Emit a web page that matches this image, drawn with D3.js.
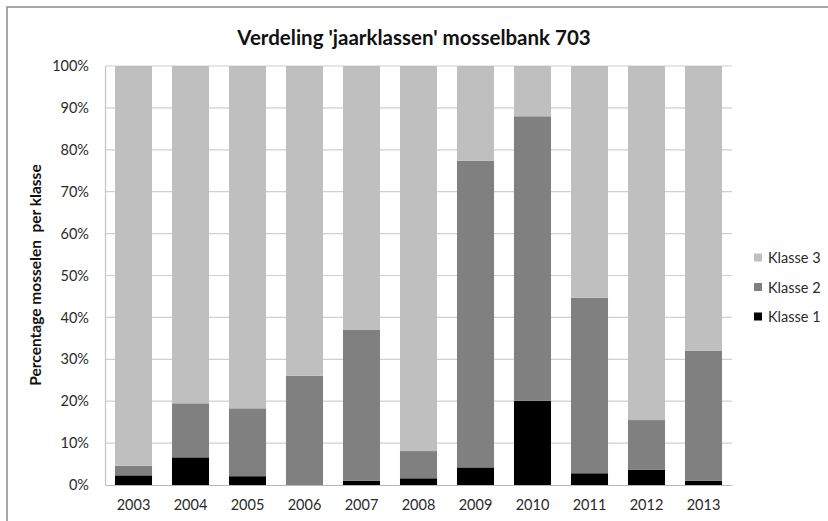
<!DOCTYPE html>
<html>
<head>
<meta charset="utf-8">
<script src="https://cdn.jsdelivr.net/npm/d3@7"></script>
<style>
  html, body { margin: 0; padding: 0; background: #fff; }
  svg { display: block; font-family: Lato, "Open Sans", sans-serif; }
</style>
</head>
<body>
<svg id="chart" width="828" height="521"></svg>
<script>
// Year classes of mussel bed 703, percentage per class
const years = ["2003", "2004", "2005", "2006", "2007", "2008", "2009", "2010", "2011", "2012", "2013"];
const klasse1 = [2.3, 6.6, 2.1, 0.0, 1.0, 1.6, 4.2, 20.1, 2.8, 3.6, 1.0];
const klasse2 = [2.3, 12.9, 16.2, 26.1, 36.0, 6.5, 73.2, 67.9, 41.9, 11.9, 31.0];
const klasse3 = [95.4, 80.5, 81.7, 73.9, 63.0, 91.9, 22.6, 12.0, 55.3, 84.5, 68.0];
const seriesNames = ["Klasse 1", "Klasse 2", "Klasse 3"];
const seriesColors = ["#000000", "#808080", "#bfbfbf"];
const yTicks = [0, 10, 20, 30, 40, 50, 60, 70, 80, 90, 100];

const svg = d3.select("#chart");
const margin = { left: 105, right: 96, top: 66, bottom: 36 };
const W = 828, H = 521;
const plotW = W - margin.left - margin.right;
const plotH = H - margin.top - margin.bottom;

// Outer chart frame (continues past the right and bottom edge)
svg.append("rect")
  .attr("x", 7).attr("y", 7)
  .attr("width", 840).attr("height", 540)
  .attr("fill", "none").attr("stroke", "#8a8a8a").attr("stroke-width", 1.5);

const table = years.map((y, i) => ({
  year: y,
  "Klasse 1": klasse1[i],
  "Klasse 2": klasse2[i],
  "Klasse 3": klasse3[i]
}));
const stacked = d3.stack().keys(seriesNames)(table);

const x = d3.scaleBand().domain(years)
  .range([margin.left, margin.left + plotW])
  .paddingInner(0.35).paddingOuter(0.175);
const y = d3.scaleLinear().domain([0, 100]).range([margin.top + plotH, margin.top]);
const color = d3.scaleOrdinal().domain(seriesNames).range(seriesColors);

// Horizontal gridlines
svg.append("g")
  .selectAll("line").data(yTicks.filter(t => t > 0)).join("line")
  .attr("x1", margin.left).attr("x2", margin.left + plotW)
  .attr("y1", d => y(d)).attr("y2", d => y(d))
  .attr("stroke", "#d0d0d0").attr("stroke-width", 1.2);

// Stacked bars
svg.append("g")
  .selectAll("g").data(stacked).join("g")
  .attr("fill", d => color(d.key))
  .selectAll("rect").data(d => d).join("rect")
  .attr("x", d => x(d.data.year))
  .attr("width", x.bandwidth())
  .attr("y", d => y(d[1]))
  .attr("height", d => y(d[0]) - y(d[1]));

// Axes
const yAxis = svg.append("g")
  .attr("transform", `translate(${margin.left},0)`)
  .call(d3.axisLeft(y).tickValues(yTicks).tickFormat(d => d + "%").tickSize(0).tickPadding(16));
yAxis.select(".domain").attr("stroke", "#c4c4c4").attr("stroke-width", 1.2);
yAxis.selectAll("text").attr("font-size", 14.5).attr("fill", "#2a2a2a")
  .attr("font-family", "Lato, sans-serif");

const xAxis = svg.append("g")
  .attr("transform", `translate(0,${margin.top + plotH})`)
  .call(d3.axisBottom(x).tickSize(0).tickPadding(15));
xAxis.select(".domain").attr("stroke", "#b8b8b8").attr("stroke-width", 1.2);
xAxis.selectAll("text").attr("font-size", 14.5).attr("fill", "#2a2a2a")
  .attr("font-family", "Lato, sans-serif");

// Title
svg.append("text")
  .attr("x", 414).attr("y", 45)
  .attr("text-anchor", "middle")
  .attr("font-size", 20.5).attr("font-weight", "bold").attr("fill", "#111")
  .text("Verdeling 'jaarklassen' mosselbank 703");

// Y axis title
svg.append("text")
  .attr("transform", `translate(41,${275}) rotate(-90)`)
  .attr("text-anchor", "middle")
  .attr("font-size", 15.5).attr("font-weight", "bold").attr("fill", "#111")
  .attr("xml:space", "preserve")
  .text("Percentage mosselen  per klasse");

// Legend (top entry is the top of the stack)
const legend = svg.append("g");
const legendItems = seriesNames.slice().reverse();
legendItems.forEach((name, i) => {
  const ly = 258 + i * 29.5;
  legend.append("rect")
    .attr("x", 754).attr("y", ly - 4.5)
    .attr("width", 8).attr("height", 8)
    .attr("fill", color(name));
  legend.append("text")
    .attr("x", 768).attr("y", ly)
    .attr("dy", "0.35em")
    .attr("font-size", 14.5).attr("fill", "#2a2a2a")
    .text(name);
});
</script>
</body>
</html>
